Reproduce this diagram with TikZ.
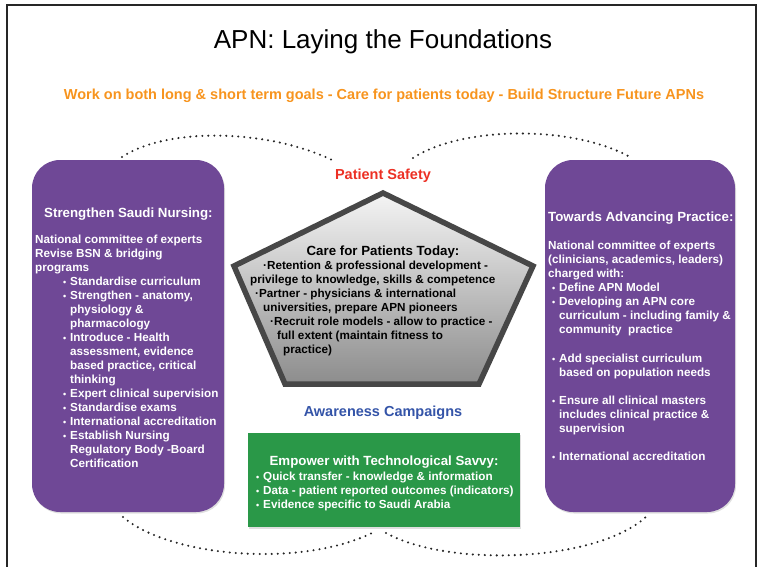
\documentclass[tikz,border=0pt]{standalone}
\usepackage{fontspec}
\setmainfont{Liberation Sans}
\usetikzlibrary{shadows}
\definecolor{apnpurple}{RGB}{111,72,150}
\definecolor{apngreen}{RGB}{42,152,72}
\definecolor{apnorange}{RGB}{247,148,30}
\definecolor{apnred}{RGB}{236,48,36}
\definecolor{apnblue}{RGB}{52,84,168}
\newcommand\bul{\llap{{\fontsize{9}{9}\selectfont•}\hspace{4pt}}}
\tikzset{
	txt/.style={anchor=base west,inner sep=0pt,text=white,
		font=\fontsize{11.7}{14}\selectfont\bfseries},
	blk/.style={txt,text=black},
	hd/.style={txt,font=\fontsize{13.3}{16}\selectfont\bfseries},
	purplebox/.style={fill=apnpurple,rounded corners=28pt,
		drop shadow={opacity=.25,shadow xshift=1pt,shadow yshift=-1.5pt}},
	dots/.style={line width=2.3pt,line cap=round,
		dash pattern=on 0pt off 6pt,black!85},
}
\begin{document}
\begin{tikzpicture}[x=1pt,y=-1pt]
	\useasboundingbox (0,0) rectangle (760,567);
	\draw[line width=1.6pt,black!85] (7,567)--(7,5)--(756,5)--(756,567);
	% titles
	\node[font=\fontsize{26}{30}\selectfont] (title) at (383,42)
	{APN: Laying the Foundations};
	\node[font=\fontsize{14.5}{16}\selectfont\bfseries,
	text=apnorange] (goals) at (384,96)
	{Work on both long \& short term goals - Care for patients today - Build Structure Future APNs};
	% boxes
	\node[purplebox,minimum width=192,minimum height=352] (saudi) at (128,336) {};
	\node[purplebox,minimum width=190,minimum height=352] (advance) at (640,336) {};
	\node[fill=apngreen,minimum width=272,minimum height=94,
	drop shadow={opacity=.25,shadow xshift=1pt,shadow yshift=-1.5pt}]
	(savvy) at (384,480) {};
	\path[draw=black!72,line width=5.5pt,line join=miter,
	top color=black!4,bottom color=black!45]
	(383,193)--(533,266)--(479,384)--(285,384)--(234,266)--cycle;
	% left box
	\node[hd] (saudihead) at (44,217) {Strengthen Saudi Nursing:};
	\foreach \x/\y/\texn in {35/243/National committee of experts,
		35/257/Revise BSN \& bridging,35/271/programs,
		70/285/\bul Standardise curriculum,70/299/{\bul Strengthen - anatomy,},
		70/313/physiology \&,70/327/pharmacology,70/341/\bul Introduce - Health,
		70/355/{assessment, evidence},70/369/{based practice, critical},
		70/383/thinking,70/397/\bul Expert clinical supervision,
		70/411/\bul Standardise exams,70/425/\bul International accreditation,
		70/439/\bul Establish Nursing,70/453/Regulatory Body -Board,
		70/467/Certification}
	\path (\x,\y) node[txt](sn\y){\texn};
	% right box
	\node[hd] (advhead) at (548,221) {Towards Advancing Practice:};
	\foreach \x/\y/\texn in {548/249/National committee of experts,
		548/263/{(clinicians, academics, leaders)},548/277/charged with:,
		559/291/\bul Define APN Model,559/305/\bul Developing an APN core,
		559/319/curriculum - including family \&,559/333/community\ \ practice,
		559/362/\bul Add specialist curriculum,559/376/based on population needs,
		559/404/\bul Ensure all clinical masters,559/418/includes clinical practice \&,
		559/432/supervision,559/460/\bul International accreditation}
	\path (\x,\y) node[txt](ap\y){\texn};
	% centre
	\node[hd,anchor=base,text=apnred,font=\fontsize{14.5}{16}\selectfont\bfseries]
	(safety) at (383,179) {Patient Safety};
	\node[hd,anchor=base,text=black] (care) at (383,255) {Care for Patients Today:};
	\foreach \x/\y/\texn in {263/269/·Retention \& professional development -,
		250/283/{privilege to knowledge, skills \& competence},
		255/297/·Partner - physicians \& international,
		263/311/{universities, prepare APN pioneers},
		270/325/·Recruit role models - allow to practice -,
		277/339/full extent (maintain fitness to,283/353/practice)}
	\path (\x,\y) node[blk](ct\y){\texn};
	\node[hd,anchor=base,text=apnblue,font=\fontsize{14.5}{16}\selectfont\bfseries]
	(aware) at (383,416) {Awareness Campaigns};
	\node[hd,anchor=base] (savvyhead) at (384,465) {Empower with Technological Savvy:};
	\foreach \y/\texn in {480/\bul Quick transfer - knowledge \& information,
		494/\bul Data - patient reported outcomes (indicators),
		508/\bul Evidence specific to Saudi Arabia}
	\path (263,\y) node[txt](ts\y){\texn};
	% dotted arcs
	\coordinate (tl1) at (122,157); \coordinate (tl2) at (332,160);
	\coordinate (tr1) at (413,158); \coordinate (tr2) at (630,157);
	\coordinate (bl1) at (123,517); \coordinate (bl2) at (372,533);
	\coordinate (br1) at (386,533); \coordinate (br2) at (648,515);
	\draw[dots] (tl1) .. controls (165,128) and (265,128) .. (tl2);
	\draw[dots] (tr1) .. controls (460,127) and (570,124) .. (tr2);
	\draw[dots] (bl1) .. controls (170,557) and (300,568) .. (bl2);
	\draw[dots] (br1) .. controls (450,568) and (600,562) .. (br2);
\end{tikzpicture}
\end{document}
